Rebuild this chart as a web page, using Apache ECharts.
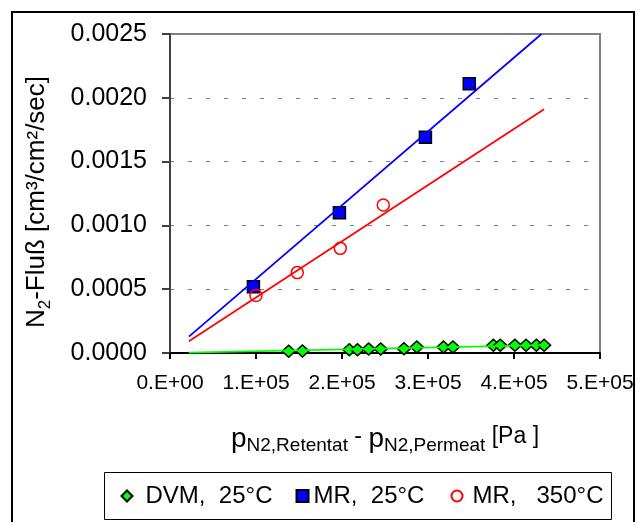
<!DOCTYPE html>
<html>
<head>
<meta charset="utf-8">
<script src="https://cdn.jsdelivr.net/npm/echarts@6/dist/echarts.min.js"></script>
<style>
  html, body { margin: 0; padding: 0; background: #fff; }
  #chart { width: 638px; height: 522px; }
</style>
</head>
<body>
<div id="chart"></div>
<script>
// N2 flux vs. partial pressure difference across the membrane
const seriesNames = ['DVM,  25°C', 'MR,  25°C', 'MR,   350°C'];

// measured points [pressure difference in Pa, flux in cm³/cm²/sec]
const dvm25 = [
  [138000, 0.000014], [154000, 0.000016], [208500, 0.000026], [218000, 0.000026],
  [231000, 0.000031], [245000, 0.000031], [272000, 0.000033], [287000, 0.000047],
  [318000, 0.000047], [329000, 0.000047], [376000, 0.000060], [384000, 0.000060],
  [401000, 0.000060], [414000, 0.000060], [426000, 0.000060], [435000, 0.000060]
];
const mr25 = [[97000, 0.00052], [197000, 0.00110], [297000, 0.00169], [348000, 0.00211]];
const mr350 = [[100000, 0.00045], [148000, 0.00063], [198000, 0.00082], [248000, 0.00116]];

// linear trend lines (start and end points)
const dvm25Trend = [[22000, 0.000002], [435000, 0.000061]];
const mr25Trend = [[22000, 0.000128], [432000, 0.0025]];
const mr350Trend = [[22000, 0.000092], [435000, 0.00191]];

// axis ticks
const xTicks = { min: 0, max: 500000, step: 100000 };
const yTicks = { min: 0, max: 0.0025, step: 0.0005 };

const FONT = '"Liberation Sans", Arial, sans-serif';
const chart = echarts.init(document.getElementById('chart'));

function trend(data, color) {
  return {
    type: 'line', data: data, symbol: 'none', silent: true, z: 3,
    lineStyle: { color: color, width: 1.75 }, legendHoverLink: false
  };
}

function legendFor(name, icon, left, w, h, gap) {
  return {
    left: left, top: 484, padding: 0, itemGap: 0,
    itemWidth: w, itemHeight: h, selectedMode: false,
    data: [{ name: name, icon: icon }],
    textStyle: { fontFamily: FONT, fontSize: 24, color: '#000', padding: [0, 0, 0, gap] }
  };
}

chart.setOption({
  animation: false,
  textStyle: { fontFamily: FONT },
  grid: {
    left: 170, right: 38, top: 34, bottom: 169,
    show: true, borderColor: '#808080', borderWidth: 2,
    containLabel: false, outerBoundsMode: 'none'
  },
  xAxis: {
    type: 'value', min: xTicks.min, max: xTicks.max, interval: xTicks.step,
    axisLine: { onZero: false, lineStyle: { color: '#000', width: 2 } },
    axisTick: { length: 6, lineStyle: { color: '#000', width: 2 } },
    splitLine: { show: false },
    axisLabel: {
      fontFamily: FONT, fontSize: 21, color: '#000', margin: 20,
      formatter: v => v === 0 ? '0.E+00' : Math.round(v / 100000) + '.E+05'
    },
    name: '{p|p}{s|N2,Retentat}{m| - }{p|p}{s|N2,Permeat}{m| [Pa ]}',
    nameLocation: 'middle', nameGap: 72,
    nameTextStyle: {
      rich: {
        p: { fontFamily: FONT, fontSize: 28, color: '#000', lineHeight: 30, verticalAlign: 'top' },
        s: { fontFamily: FONT, fontSize: 19, color: '#000', lineHeight: 24, verticalAlign: 'bottom' },
        m: { fontFamily: FONT, fontSize: 23, color: '#000', lineHeight: 28, verticalAlign: 'top' }
      }
    }
  },
  yAxis: {
    type: 'value', min: yTicks.min, max: yTicks.max, interval: yTicks.step,
    axisLine: { lineStyle: { color: '#404040', width: 2 } },
    axisTick: { length: 8, lineStyle: { color: '#404040', width: 2 } },
    splitLine: {
      show: true, showMinLine: false, showMaxLine: false,
      lineStyle: { color: '#808080', width: 1, type: [4, 14] }
    },
    axisLabel: {
      fontFamily: FONT, fontSize: 25, color: '#000', margin: 23,
      formatter: v => v.toFixed(4)
    },
    name: '{a|N}{s|2}{a|-Fluß [cm³/cm²/sec]}',
    nameLocation: 'middle', nameGap: 116, nameRotate: 90,
    nameTextStyle: {
      padding: [0, 17, 0, 0],
      rich: {
        a: { fontFamily: FONT, fontSize: 26, color: '#000', lineHeight: 30, verticalAlign: 'top' },
        s: { fontFamily: FONT, fontSize: 17, color: '#000', lineHeight: 24, verticalAlign: 'bottom' }
      }
    }
  },
  legend: [
    legendFor(seriesNames[0], 'diamond', 120.5, 11, 11, 8),
    legendFor(seriesNames[1], 'rect', 295.5, 12, 12, 0),
    legendFor(seriesNames[2], 'circle', 450.5, 11, 11, 5)
  ],
  graphic: [
    { type: 'rect', silent: true, z: 0,
      shape: { x: 12, y: 12, width: 622, height: 540 },
      style: { fill: 'none', stroke: '#000', lineWidth: 2 } },
    { type: 'rect', silent: true, z: 0,
      shape: { x: 104.5, y: 472.5, width: 507, height: 47 },
      style: { fill: 'none', stroke: '#000', lineWidth: 1 } }
  ],
  series: [
    {
      name: seriesNames[0], type: 'scatter', data: dvm25, z: 2,
      symbol: 'diamond', symbolSize: [13, 12],
      itemStyle: { color: '#00ff00', borderColor: '#000', borderWidth: 1.5, opacity: 1 }
    },
    {
      name: seriesNames[1], type: 'scatter', data: mr25, z: 2,
      symbol: 'rect', symbolSize: 12,
      itemStyle: { color: '#0000ff', borderColor: '#000', borderWidth: 1.5, opacity: 1 }
    },
    {
      name: seriesNames[2], type: 'scatter', data: mr350, z: 2,
      symbol: 'circle', symbolSize: 12,
      itemStyle: { color: 'rgba(255,255,255,0)', borderColor: '#ff0000', borderWidth: 1.5, opacity: 1 }
    },
    trend(dvm25Trend, '#00ff00'),
    trend(mr25Trend, '#0000ff'),
    trend(mr350Trend, '#ff0000')
  ]
});
</script>
</body>
</html>
